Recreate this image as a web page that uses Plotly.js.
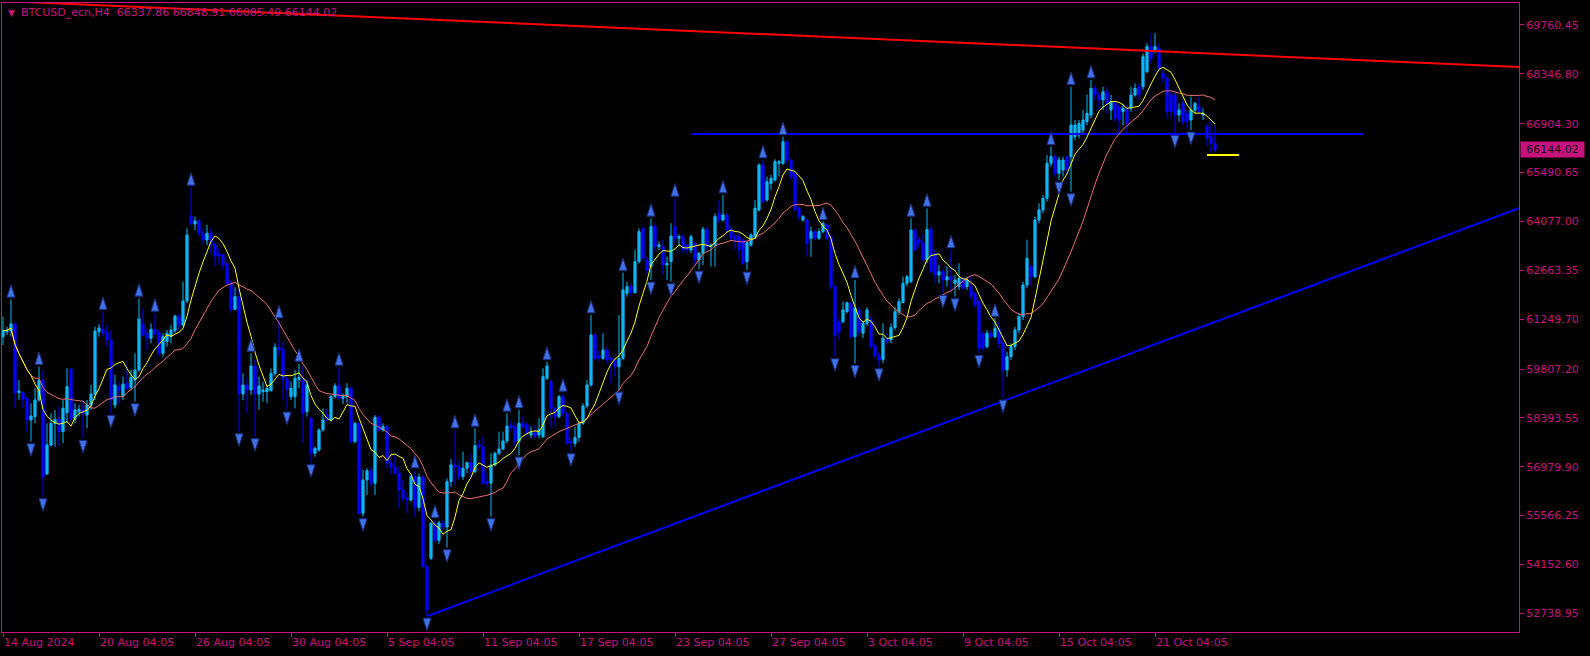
<!DOCTYPE html>
<html><head><meta charset="utf-8">
<script src="https://cdn.plot.ly/plotly-3.0.1.min.js"></script>
<style>html,body{margin:0;padding:0;background:#000;}#chart{width:1590px;height:656px;}</style>
</head><body><div id="chart"></div>
<script>
const symbolName = "BTCUSD_ecn";
const timeframe = "H4";

const open = [
60744,60888,60917,61110,59123,59123,58960,58333,58429,58911,
59471,56771,57610,58236,58352,57995,58545,59798,58352,58574,
58641,58478,58767,59085,60888,60956,60869,60647,58767,59297,
59027,59394,59278,59490,59779,61110,60840,60695,60956,60859,
60261,60599,60744,60917,61322,61081,61775,64234,64003,64099,
63733,63540,63733,63424,63135,63106,62846,62306,61534,61901,
59085,59345,59201,59895,59085,59152,59152,59181,59683,60435,
60377,59509,59007,59007,59509,59490,58574,58381,57369,57465,
58043,58478,58333,59008,59317,58960,59008,59249,57706,58236,
55633,56597,56867,56501,58410,58043,58140,57080,56964,56790,
56308,56067,56019,56694,55807,56684,54090,54331,55353,54850,
55353,55237,56549,57031,56983,56694,56935,57099,56839,57610,
57562,56550,56501,57031,57369,57494,57726,58179,58140,57706,
58236,58188,57899,57995,57899,57851,59539,59442,58671,58429,
59008,58526,57706,57658,57831,58236,58738,59346,60792,60184,
60117,60358,60117,60069,59876,60117,61997,62190,62017,62913,
63878,62962,62769,63926,63347,63347,62817,62913,63926,63589,
63637,63396,63251,63444,62962,63155,63849,63347,63396,64312,
64119,64263,63849,63656,63637,63540,62913,63396,63637,64408,
65710,64697,65180,65276,65758,65758,66385,65855,65469,64456,
64119,64119,63589,63781,63589,63781,63974,63637,62190,61178,
61178,61467,61708,60744,61515,60840,61130,61245,60474,60184,
60088,60695,60647,61008,61467,61727,62286,62334,63829,63540,
63443,62961,63848,63154,62527,62623,62383,62479,62286,62190,
62431,62190,62190,61997,61756,60840,60454,60840,60743,60984,
60550,59780,60165,60456,60934,61322,62238,62768,62479,64118,
64407,64745,65758,65950,65469,65565,65950,65950,66529,66577,
66722,66963,67156,67927,67734,67590,67831,67300,67541,67397,
67252,67349,67349,67734,67975,67975,68409,69133,69037,69085,
68361,68216,67734,67734,67156,67493,67204,67011,67300,67397,
67156,66818,66529,66337.86];

const high = [
61322,61033,61824,61149,59490,59152,59008,58815,59249,59876,
59779,58236,58526,58622,58719,58911,59827,59827,58815,58767,
58911,58911,59345,61033,61110,61467,61081,60936,59635,59442,
59587,59972,59779,60261,61853,61563,60985,61129,61419,60937,
60840,60937,61081,61370,61419,62335,63877,65064,64215,64119,
63877,63974,63877,63444,63299,63154,62913,62383,62171,62286,
59683,59538,60261,60069,59587,59442,59345,59827,60551,61226,
60599,59635,59442,59779,59972,59876,59490,58429,57562,58092,
58671,58670,59056,59394,59857,59105,59394,59297,58285,58285,
56886,56935,56983,58478,58478,58236,58188,57272,57321,56983,
56597,56212,56742,56886,56790,56742,54138,55392,55450,55420,
55430,56645,57200,58043,57176,57417,57128,57369,58092,57755,
57851,56800,57369,57417,57995,57995,58526,58333,58285,58622,
58429,58285,58140,58188,58381,59828,60021,59490,58719,59056,
59105,58574,57803,58140,58285,58815,59490,61370,60840,60358,
60840,60454,60200,60117,61371,62595,62335,62287,63251,63878,
63926,63058,64167,64022,63500,63540,63058,64022,64746,63700,
63700,63444,63700,63500,63200,63926,63926,63444,64312,64697,
64842,64312,63926,63733,63830,63589,63500,63733,64697,65758,
65855,65372,65420,65874,65855,66530,66414,65903,65517,64505,
64260,64167,63926,63830,63878,64070,64022,63685,62240,61274,
61756,61756,61756,62383,61600,61200,61600,61322,60551,60300,
61130,60840,61130,61600,61850,62479,62527,64166,63877,63636,
63733,64455,63925,63250,62817,62720,62768,63250,62527,62865,
62479,62479,62479,62045,61804,60888,60936,60936,61273,61177,
60650,60310,60550,61030,61420,62335,63550,62817,64215,64600,
64842,66000,66240,66047,65950,65950,66000,67975,67011,67011,
67300,67750,68168,68023,67830,67975,67975,67734,67590,67493,
67493,67445,67975,68072,68072,68940,69229,69518,69518,69229,
68458,68312,67879,67830,67493,67590,67300,67686,67541,67686,
67349,66915,66963,66848.91];

const low = [
60503,60792,60744,58670,58911,58670,57995,57706,58236,58863,
56115,56742,57561,57561,57561,57658,58236,58333,58236,58429,
57802,58092,58622,58911,60744,60744,60454,58526,58670,58815,
58911,59201,59201,58863,59731,60744,60358,60551,60744,60165,
60165,60454,60551,60840,60937,61033,61708,63974,63829,63636,
63395,63395,63154,62769,62817,62672,62238,61419,61515,57995,
58911,58526,59056,57851,58622,58863,58815,59152,59587,60165,
58911,58622,58911,58670,59249,57658,58430,57099,57272,57417,
57995,58285,58285,58960,58912,58796,58815,57658,57658,55585,
55537,56163,56404,56163,57995,57995,56935,56742,56742,55778,
55970,55633,55970,55537,55700,54042,52662,54283,54800,54750,
55150,54640,56400,56453,56597,56597,56790,56694,56790,57465,
56453,56400,55537,56983,57321,57465,57658,57995,57562,57321,
58092,57851,57802,57802,57802,57802,59490,58092,58140,58381,
58429,57610,57417,57562,57706,58188,58671,59297,60069,60021,
60069,59972,59394,59587,59201,60069,61901,61901,61997,62865,
62962,62528,62383,63203,63250,62528,62383,62335,63444,63350,
63155,63155,63155,62769,62700,62817,63250,62769,62769,64022,
64070,63733,63540,63251,63010,62817,62672,63347,63589,64360,
64601,64649,64986,65228,65372,65710,65710,65276,64360,64119,
64070,63058,63058,63540,63540,63733,63540,62094,60165,60647,
61130,61419,60695,59972,60792,60700,61050,60406,60117,59876,
59972,60500,60550,60936,61371,61708,62190,62286,63204,63300,
62913,62865,62575,62286,62286,61997,62190,62045,61900,62093,
62093,62093,61804,61563,60261,60310,60406,60695,60695,60400,
58969,59586,60070,60360,60840,61225,62142,62200,62431,64022,
64311,64649,65662,65372,65276,65372,65420,64937,66433,66480,
66625,66866,67059,67590,67300,67300,67204,67011,66963,66625,
66866,66625,67252,67686,67590,67879,68361,68650,68940,68409,
68072,67059,67059,66625,66963,66866,66770,66722,67204,67156,
67011,66240,66047,66085.49];

const close = [
60917,60936,61110,59123,59172,58931,58333,58449,58911,59471,
56674,57610,58236,58352,57995,58670,59297,58381,58622,58641,
58526,58767,59085,60908,60994,60840,60647,58911,59345,59181,
59374,59249,59567,59779,61255,60792,60695,60956,60821,60261,
60744,60840,60937,61341,61081,61775,63685,64003,64090,63733,
63540,63733,63395,63077,63077,62817,62286,61534,61901,59085,
59345,59201,59895,59085,59316,59201,59249,59683,60435,60358,
59509,59220,59249,59538,59567,58526,59345,57369,57514,58043,
58333,58333,59008,59317,58960,59008,59249,57706,58236,55633,
56597,56867,56501,58410,58043,58140,57080,56964,56790,56308,
56067,56019,56694,55807,56684,54090,52836,55344,54850,55353,
55237,56549,57031,56983,56694,56935,57099,56839,57590,57562,
56501,56501,57031,57369,57494,57726,58159,58121,57706,58236,
58140,57947,57967,57851,58043,59587,59895,58671,58429,59008,
58526,57658,57658,57831,58236,58738,59346,60792,60117,60117,
60358,60069,60069,59876,60117,62094,62190,62017,62913,63781,
63010,62672,63926,63347,63396,62817,62865,63656,63589,63637,
63251,63251,63637,62962,63155,63849,63347,63396,64215,64119,
64263,63830,63589,63522,63251,62865,63463,63685,64456,65710,
64649,65228,65324,65806,65806,66385,65855,65372,64408,64215,
64215,63444,63781,63589,63781,64022,63589,62190,60792,60888,
61515,61726,60744,61563,60888,61130,61515,60454,60184,60069,
60695,60600,61008,61467,61756,62286,62479,63829,63251,63443,
62961,63848,62623,62527,62623,62383,62479,62383,62383,62431,
62141,62383,61900,61660,60406,60406,60840,60743,60984,60550,
59780,60165,60456,60934,61322,62238,63010,62479,64118,64407,
64745,65758,65950,65469,65855,65854,65565,66866,66866,66915,
67011,67204,67927,67734,67590,67831,67493,67541,67059,67011,
67349,66915,67734,67927,67734,68843,69133,68795,69133,68506,
68216,67252,67252,67156,67300,66963,66963,67300,67493,67252,
67204,66481,66336,66144.02];

const dateTickBars = [0,24,48,72,96,120,144,168,192,216,240,264,288];
const dateTickLabels = ["14 Aug 2024","20 Aug 04:05","26 Aug 04:05","30 Aug 04:05","5 Sep 04:05","11 Sep 04:05","17 Sep 04:05","23 Sep 04:05","27 Sep 04:05","3 Oct 04:05","9 Oct 04:05","15 Oct 04:05","21 Oct 04:05"];
const priceTicks = [52738.95,54152.60,55566.25,56979.90,58393.55,59807.20,61249.70,62663.35,64077.00,65490.65,66904.30,68346.80,69760.45];

const resistanceX = [-0.25, 379];
const resistanceY = [70454, 68545];
const supportX = [106.2, 379];
const supportY = [52662, 64457];
const levelX = [172.2, 340.25];
const levelY = [66606, 66606];
const shortLineX = [301, 309];
const shortLineY = [65999, 65999];

const fastPeriod = 8;
const slowPeriod = 21;

// ---- derived ----
const bars = close.map((_, i) => i);
function sma(arr, n) {
  return arr.map((_, i) => {
    const s = Math.max(0, i - n + 1);
    let t = 0;
    for (let k = s; k <= i; k++) t += arr[k];
    return t / (i - s + 1);
  });
}
const fastMA = sma(close, fastPeriod);
const slowMA = sma(close, slowPeriod);

const upX = [], upY = [], dnX = [], dnY = [];
const arrowGap = 420;
for (let i = 2; i < high.length - 2; i++) {
  if (high[i] > high[i-1] && high[i] > high[i-2] && high[i] > high[i+1] && high[i] > high[i+2]) {
    upX.push(i); upY.push(high[i] + arrowGap);
  }
  if (low[i] < low[i-1] && low[i] < low[i-2] && low[i] < low[i+1] && low[i] < low[i+2]) {
    dnX.push(i); dnY.push(low[i] - arrowGap);
  }
}

const MAG = '#c8127c';
const last = close.length - 1;
const headerText = symbolName + ',' + timeframe + '  ' +
  open[last].toFixed(2) + ' ' + high[last].toFixed(2) + ' ' + low[last].toFixed(2) + ' ' + close[last].toFixed(2);

const arrowMarker = (ang) => ({symbol:'arrow', angle:ang, size:13, color:'#4172e4', line:{color:'#1a2f86', width:1}});

const traces = [
  {type:'scatter', mode:'lines', x:resistanceX, y:resistanceY, line:{color:'#ff0000', width:2}, hoverinfo:'skip'},
  {type:'scatter', mode:'lines', x:supportX, y:supportY, line:{color:'#0000ff', width:2}, hoverinfo:'skip'},
  {type:'scatter', mode:'lines', x:levelX, y:levelY, line:{color:'#0000ff', width:2}, hoverinfo:'skip'},
  {type:'candlestick', x:bars, open:open, high:high, low:low, close:close,
    increasing:{line:{color:'#0fb6f5', width:1}, fillcolor:'#0fb6f5'},
    decreasing:{line:{color:'#0000ff', width:1}, fillcolor:'#0000ff'},
    whiskerwidth:0, hoverinfo:'skip'},
  {type:'scatter', mode:'lines', x:bars, y:slowMA, line:{color:'#e8706a', width:1}, hoverinfo:'skip'},
  {type:'scatter', mode:'lines', x:bars, y:fastMA, line:{color:'#ffff00', width:1}, hoverinfo:'skip'},
  {type:'scatter', mode:'lines', x:shortLineX, y:shortLineY, line:{color:'#ffff00', width:2}, hoverinfo:'skip'},
  {type:'scatter', mode:'markers', x:upX, y:upY, marker:arrowMarker(0), hoverinfo:'skip'},
  {type:'scatter', mode:'markers', x:dnX, y:dnY, marker:arrowMarker(180), hoverinfo:'skip'}
];

const layout = {
  width:1590, height:656,
  paper_bgcolor:'#000000', plot_bgcolor:'#000000',
  margin:{l:2, r:71, t:3, b:24},
  showlegend:false, hovermode:false, boxgap:0.45, boxgroupgap:0,
  font:{family:'DejaVu Sans, sans-serif', size:11, color:MAG},
  xaxis:{
    range:[-0.25, 379], showgrid:false, zeroline:false,
    rangeslider:{visible:false},
    showline:true, mirror:true, linecolor:MAG, linewidth:1,
    tickmode:'array', tickvals:dateTickBars, ticktext:dateTickLabels,
    ticks:'outside', ticklen:4, tickcolor:MAG, tickwidth:1,
    ticklabelposition:'outside right',
    tickfont:{family:'DejaVu Sans, sans-serif', size:11, color:MAG},
    fixedrange:true
  },
  yaxis:{
    side:'right', range:[52199, 70396], showgrid:false, zeroline:false,
    showline:true, mirror:true, linecolor:MAG, linewidth:1,
    tickmode:'array', tickvals:priceTicks, ticktext:priceTicks.map(v => v.toFixed(2)),
    ticks:'outside', ticklen:4, tickcolor:MAG, tickwidth:1,
    tickfont:{family:'DejaVu Sans, sans-serif', size:11, color:MAG},
    fixedrange:true
  },
  annotations:[
    {xref:'paper', yref:'paper', x:0, y:1, xanchor:'left', yanchor:'top', xshift:4, yshift:-3,
     text:'▼', showarrow:false, font:{size:9, color:MAG}},
    {xref:'paper', yref:'paper', x:0, y:1, xanchor:'left', yanchor:'top', xshift:17, yshift:-1,
     text:headerText, showarrow:false, font:{size:11, color:MAG, family:'DejaVu Sans, sans-serif'}},
    {xref:'paper', yref:'y', x:1, y:close[last], xanchor:'left', yanchor:'middle', xshift:1,
     text:close[last].toFixed(2), showarrow:false, bgcolor:MAG, borderpad:1, width:61, align:'center',
     font:{size:11, color:'#111111', family:'DejaVu Sans, sans-serif'}}
  ]
};

Plotly.newPlot('chart', traces, layout, {displayModeBar:false, staticPlot:true});
</script>
</body></html>
